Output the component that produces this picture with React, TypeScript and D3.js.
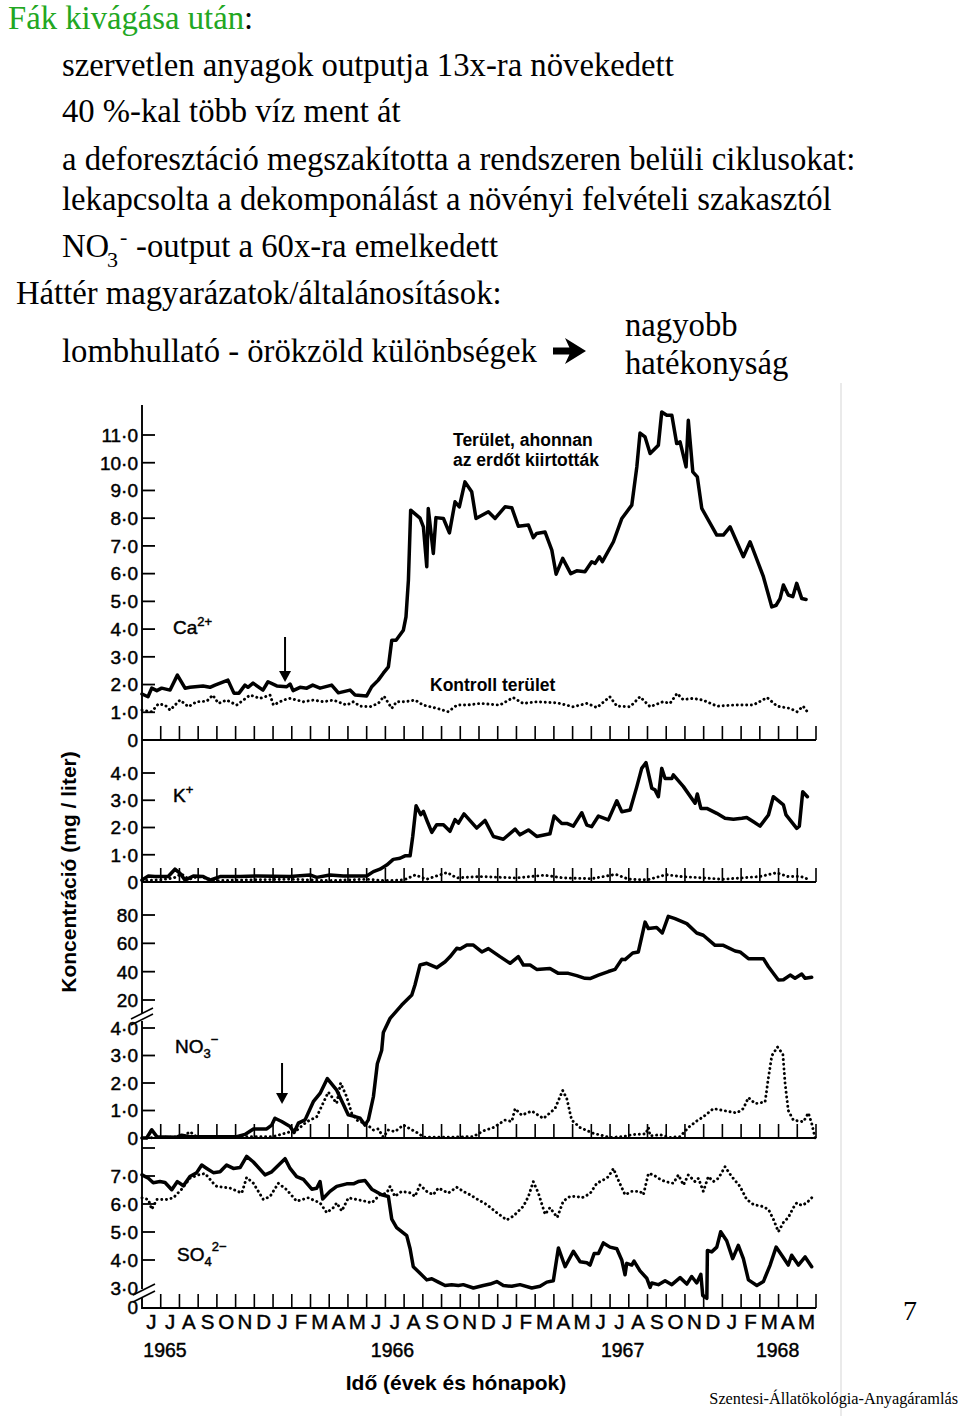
import React from "react";
import * as d3 from "d3";

type P = [number, number];

// ---------- categories / ticks ----------
const monthCycle = ["J", "J", "A", "S", "O", "N", "D", "J", "F", "M", "A", "M"];
const monthLabels = [...monthCycle, ...monthCycle, ...monthCycle];
const yearLabels = ["1965", "1966", "1967", "1968"];
const yearPositions = [1.23, 13.38, 25.67, 33.95]; // month index of year label centre

const caTickValues = [0, 1, 2, 3, 4, 5, 6, 7, 8, 9, 10, 11];
const kTickValues = [0, 1, 2, 3, 4];
const no3LowTickValues = [0, 1, 2, 3, 4];
const no3HighTickValues = [20, 40, 60, 80];
const so4TickValues = [3, 4, 5, 6, 7];
const so4ExtraTicks = [8];

const cuttingMonths = [7.64, 7.48]; // arrow positions (Ca, NO3)

// ---------- series: [months since 1 June 1965, mg/liter] ----------
const caTreated: P[] = [[0,1.66],[0.32,1.56],[0.52,1.87],[0.79,1.78],[1.05,1.87],[1.5,1.8],[1.89,2.34],[2.3,1.87],[2.56,1.9],[3.26,1.95],[3.63,1.9],[3.9,1.98],[4.59,2.16],[4.91,1.69],[5.18,1.69],[5.5,1.98],[5.66,1.9],[5.93,2.05],[6.46,1.8],[6.73,2.1],[7.2,1.95],[7.73,1.92],[7.91,2.02],[8.07,1.78],[8.44,1.9],[8.8,1.87],[9.12,1.98],[9.51,1.87],[10.13,1.98],[10.49,1.7],[11.11,1.8],[11.38,1.62],[12.0,1.59],[12.27,1.92],[12.62,2.16],[12.89,2.41],[13.16,2.64],[13.34,3.6],[13.57,3.6],[13.96,3.96],[14.1,4.44],[14.23,5.77],[14.35,8.29],[14.85,8.0],[15.03,7.69],[15.21,6.25],[15.29,8.35],[15.56,6.73],[15.7,8.02],[16.1,7.99],[16.42,7.47],[16.72,8.59],[16.95,8.41],[17.25,9.31],[17.61,8.95],[17.84,7.99],[18.5,8.23],[18.86,7.99],[19.39,8.41],[19.75,8.38],[20.1,7.71],[20.64,7.75],[20.9,7.3],[21.08,7.45],[21.53,7.5],[21.89,6.85],[22.12,5.98],[22.47,6.55],[22.9,6.0],[23.22,6.1],[23.66,6.07],[24.02,6.43],[24.2,6.37],[24.43,6.61],[24.59,6.43],[25.18,7.15],[25.63,7.99],[26.16,8.47],[26.43,9.85],[26.6,11.07],[26.87,10.93],[27.14,10.33],[27.58,10.63],[27.76,11.83],[28.03,11.71],[28.3,11.71],[28.56,10.69],[28.74,10.75],[29.06,9.85],[29.18,11.53],[29.42,9.67],[29.66,9.49],[29.9,8.35],[30.7,7.39],[31.05,7.39],[31.41,7.69],[32.12,6.61],[32.48,7.15],[33.19,5.89],[33.64,4.8],[33.87,4.86],[34.08,5.1],[34.26,5.59],[34.52,5.23],[34.76,5.17],[34.97,5.65],[35.24,5.1],[35.47,5.07]];

const caControl: P[] = [[0,1.08],[0.52,1.02],[0.87,1.3],[1.23,1.26],[1.5,1.08],[2.03,1.44],[2.48,1.2],[2.92,1.38],[3.46,1.4],[3.78,1.62],[4.08,1.32],[4.52,1.44],[5.06,1.26],[5.77,1.62],[6.3,1.5],[6.84,1.62],[7.02,1.26],[7.55,1.44],[7.91,1.5],[8.62,1.38],[9.15,1.44],[9.69,1.38],[10.22,1.44],[10.93,1.26],[11.29,1.38],[11.65,1.22],[12.18,1.2],[12.62,1.32],[12.93,1.58],[13.34,1.14],[13.6,1.38],[14.05,1.38],[14.58,1.44],[15.01,1.26],[15.76,1.14],[16.35,1.02],[16.83,1.26],[17.36,1.26],[18.06,1.32],[19.12,1.26],[19.82,1.53],[20.35,1.32],[21.1,1.38],[22.17,1.34],[23.02,1.2],[23.77,1.32],[24.3,1.17],[24.99,1.56],[25.37,1.22],[26.07,1.2],[26.6,1.56],[27.14,1.2],[27.83,1.38],[28.2,1.32],[28.58,1.68],[28.9,1.46],[29.43,1.5],[29.96,1.44],[30.72,1.22],[31.57,1.26],[32.64,1.26],[33.39,1.53],[33.92,1.22],[34.62,1.14],[34.99,1.02],[35.31,1.22],[35.58,0.98]];

const kTreated: P[] = [[0,0.07],[0.34,0.22],[0.69,0.2],[1.4,0.2],[1.76,0.47],[2.03,0.32],[2.3,0.07],[2.74,0.22],[3.27,0.2],[3.63,0.07],[4.17,0.2],[5.24,0.2],[6.13,0.22],[7.91,0.2],[8.97,0.26],[9.33,0.17],[10.04,0.26],[10.75,0.22],[12.0,0.22],[12.36,0.38],[12.71,0.47],[13.07,0.62],[13.42,0.83],[13.78,0.87],[14.05,0.96],[14.32,0.96],[14.46,1.67],[14.64,2.8],[14.89,2.47],[15.03,2.59],[15.24,2.22],[15.48,1.82],[15.74,2.1],[16.1,2.1],[16.45,1.86],[16.72,2.29],[16.9,2.16],[17.2,2.5],[17.88,1.98],[18.32,2.26],[18.77,1.67],[19.3,1.57],[19.93,1.94],[20.19,1.73],[20.64,1.91],[21.08,1.67],[21.79,1.77],[22.01,2.42],[22.42,2.15],[22.69,2.15],[23.04,2.05],[23.49,2.54],[23.76,2.09],[24.02,2.03],[24.38,2.42],[24.91,2.28],[25.36,2.98],[25.63,2.58],[26.07,2.64],[26.43,3.5],[26.69,4.17],[26.92,4.38],[27.23,3.44],[27.4,3.38],[27.58,3.13],[27.76,4.17],[27.94,3.8],[28.3,3.8],[28.38,3.93],[28.92,3.5],[29.54,2.89],[29.66,3.23],[29.85,2.7],[30.17,2.7],[30.7,2.52],[31.14,2.34],[31.59,2.3],[32.04,2.34],[32.3,2.37],[32.66,2.21],[33.01,2.05],[33.46,2.46],[33.72,3.13],[34.26,2.83],[34.4,2.46],[34.97,1.97],[35.11,2.05],[35.29,3.31],[35.54,3.13]];

const kControl: P[] = [[0,0.05],[1,0.08],[1.7,0.15],[2.1,0.3],[2.5,0.1],[3,0.2],[4,0.05],[6,0.08],[8,0.1],[10,0.05],[12,0.1],[13,0.05],[14,0.08],[14.6,0.26],[15.2,0.1],[16.3,0.35],[16.8,0.15],[18,0.2],[20,0.15],[21.5,0.25],[22.5,0.15],[24,0.12],[25.3,0.28],[26,0.1],[27,0.08],[28,0.27],[28.8,0.2],[30,0.15],[31,0.1],[32,0.15],[33,0.2],[33.9,0.34],[34.5,0.2],[35.2,0.2],[35.6,0.1]];

const no3Treated: P[] = [[0,0],[0.25,0],[0.52,0.3],[0.79,0.05],[1.85,0.03],[2.12,0.1],[2.56,0.05],[5.06,0.05],[5.5,0.13],[5.95,0.33],[6.66,0.33],[6.93,0.47],[7.1,0.72],[7.46,0.6],[7.91,0.42],[8.12,0.2],[8.35,0.54],[8.71,0.66],[9.15,1.32],[9.51,1.62],[9.9,2.16],[10.4,1.74],[11.02,0.84],[11.38,0.78],[11.65,0.72],[11.91,0.47],[12.09,0.66],[12.36,1.5],[12.57,2.7],[12.8,3.18],[12.89,3.84],[13.25,9.5],[13.87,17.1],[14.41,23.5],[14.58,30.6],[14.85,44.7],[15.21,45.9],[15.74,42.8],[16.19,47],[16.45,50.5],[16.81,56.5],[16.99,56],[17.35,58.8],[17.7,58.8],[18.15,53.9],[18.5,56.3],[19.12,50.6],[19.66,45.9],[20.1,50.6],[20.37,44.7],[20.73,44.7],[21.08,41.6],[21.79,42.3],[22.24,38.8],[22.77,38.8],[23.22,37.2],[23.66,35.3],[23.93,35.1],[24.38,37.6],[24.91,40.1],[25.27,41.6],[25.63,48.7],[25.8,48.5],[26.21,53.2],[26.51,53.9],[26.87,75],[27.05,70.4],[27.49,71.1],[27.79,67.3],[28.11,79],[28.47,77.4],[29.1,73.9],[29.63,67.3],[29.98,65.7],[30.61,58.6],[31.05,58.6],[31.68,54.6],[31.94,53.9],[32.39,49.2],[33.19,49.2],[33.46,43.5],[33.99,34.1],[34.26,34.3],[34.62,37.6],[34.88,35.3],[35.24,38.3],[35.42,35.3],[35.77,36]];

const no3Control: P[] = [[0,0],[1,0.02],[2.2,0.05],[2.56,0.23],[2.9,0.05],[5,0.05],[7,0.05],[8.3,0.3],[8.8,0.59],[9.33,0.77],[9.95,1.67],[10.4,1.26],[10.61,2.0],[10.93,1.5],[11.2,0.9],[11.47,0.65],[12.0,0.5],[12.36,0.29],[12.62,0.33],[12.89,0.03],[13.16,0.29],[13.51,0.23],[13.96,0.47],[14.32,0.33],[14.76,0.17],[15.03,0.03],[16.5,0.03],[17.7,0.05],[18.23,0.26],[18.77,0.38],[19.39,0.65],[19.75,0.6],[19.93,1.07],[20.28,0.83],[20.82,0.98],[21.44,0.71],[22.06,1.07],[22.47,1.73],[22.69,1.43],[22.95,0.65],[23.4,0.38],[24.11,0.17],[25.0,0.02],[25.71,0.05],[26.16,0.12],[26.9,0.15],[27.05,0.38],[27.14,0.08],[27.67,0.12],[28.2,0.02],[28.74,0.05],[29.18,0.38],[29.63,0.62],[29.98,0.77],[30.52,1.07],[31.05,1.0],[31.77,0.91],[32.12,1.07],[32.39,1.47],[32.75,1.25],[33.28,1.31],[33.46,2.2],[33.64,2.99],[33.94,3.31],[34.23,3.05],[34.35,1.97],[34.52,1.0],[34.79,0.65],[35.33,0.59],[35.59,0.91],[35.77,0.53],[35.95,0]];

const so4Treated: P[] = [[0,7.04],[0.34,6.92],[0.6,6.76],[0.96,6.8],[1.23,6.77],[1.59,6.51],[1.89,6.8],[2.21,6.65],[2.56,6.98],[2.92,7.12],[3.19,7.39],[3.46,7.27],[3.81,7.12],[4.17,7.15],[4.52,7.39],[4.88,7.27],[5.24,7.3],[5.59,7.7],[5.95,7.5],[6.57,7.04],[6.93,7.15],[7.64,7.62],[7.91,7.27],[8.26,6.98],[8.62,6.88],[9.07,6.53],[9.33,6.56],[9.51,6.8],[9.65,6.18],[10.04,6.45],[10.4,6.63],[10.93,6.72],[11.29,6.72],[11.55,6.8],[11.91,6.84],[12.27,6.53],[12.8,6.33],[13.16,6.27],[13.34,5.46],[13.6,5.16],[14.14,4.87],[14.32,4.4],[14.49,3.76],[14.85,3.53],[15.21,3.29],[15.48,3.33],[15.83,3.21],[16.19,3.09],[16.54,3.12],[16.9,3.09],[17.16,3.12],[17.7,3.0],[18.23,3.09],[18.59,3.14],[18.95,3.23],[19.3,3.09],[19.75,3.06],[20.19,3.12],[20.82,3.0],[21.26,3.06],[21.62,3.21],[21.97,3.26],[22.24,4.43],[22.6,3.76],[23.04,4.31],[23.4,3.94],[23.76,3.9],[23.93,3.82],[24.15,4.23],[24.38,4.23],[24.64,4.61],[25.0,4.46],[25.36,4.4],[25.63,3.99],[25.8,3.47],[25.89,3.88],[26.16,3.82],[26.28,3.96],[26.6,3.61],[26.96,3.35],[27.14,3.02],[27.23,3.18],[27.58,3.12],[27.94,3.26],[28.3,3.12],[28.74,3.37],[29.1,3.14],[29.36,3.41],[29.63,3.18],[29.85,3.49],[29.95,1.88],[30.17,1.45],[30.2,4.34],[30.43,4.29],[30.7,4.46],[30.91,5.01],[31.23,4.69],[31.55,4.05],[31.85,4.52],[32.12,4.05],[32.39,3.29],[32.84,3.09],[33.19,3.23],[33.55,3.82],[33.87,4.46],[34.17,4.17],[34.52,3.82],[34.7,4.17],[35.06,3.82],[35.42,4.11],[35.77,3.76]];

const so4Control: P[] = [[0,6.22],[0.34,6.16],[0.52,5.81],[0.79,6.16],[1.32,6.16],[1.67,6.22],[2.12,6.53],[2.56,6.92],[3.01,7.04],[3.37,7.09],[3.81,6.74],[3.99,6.63],[4.7,6.57],[5.33,6.39],[5.59,6.95],[5.95,6.74],[6.48,6.16],[6.84,6.27],[7.28,6.74],[7.73,6.51],[8.26,6.1],[8.88,6.22],[9.51,6.04],[9.87,5.69],[10.22,5.87],[10.4,6.04],[10.67,5.75],[11.02,6.22],[11.47,6.16],[11.91,6.1],[12.27,6.04],[12.71,6.33],[13.07,6.39],[13.25,6.63],[13.51,6.27],[13.87,6.45],[14.32,6.4],[14.58,6.27],[14.85,6.68],[15.21,6.45],[15.56,6.33],[15.83,6.57],[16.36,6.39],[16.81,6.6],[17.16,6.45],[17.52,6.33],[17.88,6.18],[18.41,5.98],[18.95,5.69],[19.48,5.43],[19.84,5.57],[20.37,5.92],[20.64,6.27],[20.9,6.8],[21.17,6.39],[21.53,5.63],[21.79,5.87],[22.18,5.52],[22.5,6.1],[22.86,6.27],[23.22,6.27],[23.49,6.22],[23.93,6.37],[24.29,6.74],[24.64,6.86],[24.91,6.97],[25.18,7.27],[25.36,6.97],[25.8,6.33],[26.16,6.45],[26.6,6.45],[26.78,6.33],[27.05,7.09],[27.32,7.04],[27.58,6.92],[27.94,6.8],[28.38,6.74],[28.65,7.04],[28.92,6.68],[29.18,7.04],[29.54,6.8],[29.72,6.92],[29.98,6.45],[30.25,6.98],[30.52,6.8],[30.79,6.92],[31.14,7.33],[31.5,6.98],[31.94,6.63],[32.3,6.16],[32.66,5.98],[33.1,5.92],[33.46,5.81],[33.72,5.46],[33.99,5.01],[34.26,5.34],[34.52,5.52],[34.79,5.87],[34.97,6.04],[35.24,5.95],[35.5,6.04],[35.77,6.22]];

// ---------- drawing ----------
const SANS = "'Liberation Sans', Arial, Helvetica, sans-serif";
const SERIF = "'Liberation Serif', 'Times New Roman', serif";

const x = d3.scaleLinear().domain([0, 36]).range([142, 816]);
const yCa = d3.scaleLinear().domain([0, 11]).range([740, 435]);
const yK = d3.scaleLinear().domain([0, 4]).range([882, 773]);
const yNO3 = d3.scaleLinear().domain([0, 4, 20, 80]).range([1138, 1028, 1000, 915]);
const ySO4 = d3.scaleLinear().domain([0, 3, 8]).range([1308, 1288, 1148]);

const fmt = (v: number) => (v === 0 ? "0" : v.toFixed(1).replace(".", "\u00B7"));

function linePath(data: P[], y: d3.ScaleLinear<number, number>) {
  return d3.line<P>().x((d) => x(d[0])).y((d) => y(d[1]))(data) || "";
}

const solidStyle = { fill: "none", stroke: "#000", strokeWidth: 3.5, strokeLinejoin: "round" as const, strokeLinecap: "round" as const };
const dotStyle = { fill: "none", stroke: "#000", strokeWidth: 2.9, strokeDasharray: "0.1 4.6", strokeLinecap: "round" as const };

const AXIS_X = 142;
const TICK = 13;
const TXT_STROKE = { stroke: "#000", strokeWidth: 0.45 };

function YTicks({ values, scale, labels = true, tickLen = TICK, skipTick = [] as number[] }: any) {
  return (
    <g>
      {values.map((v: number) => (
        <g key={v}>
          {v !== 0 && !skipTick.includes(v) && (
            <line x1={AXIS_X} x2={AXIS_X + tickLen} y1={scale(v)} y2={scale(v)} stroke="#000" strokeWidth={1.8} />
          )}
          {labels && (
            <text x={138} y={scale(v)} dy="0.36em" textAnchor="end" fontFamily={SANS} fontSize={19} {...TXT_STROKE}>
              {v >= 20 ? String(v) : fmt(v)}
            </text>
          )}
        </g>
      ))}
    </g>
  );
}

function XBase({ y }: { y: number }) {
  return (
    <g>
      <line x1={AXIS_X} x2={x(36)} y1={y} y2={y} stroke="#000" strokeWidth={1.9} />
      {d3.range(1, 37).map((m) => (
        <line key={m} x1={x(m)} x2={x(m)} y1={y} y2={y - 14} stroke="#000" strokeWidth={1.6} />
      ))}
    </g>
  );
}

function Arrow({ m, y1, y2 }: { m: number; y1: number; y2: number }) {
  const ax = x(m);
  return (
    <g>
      <line x1={ax} x2={ax} y1={y1} y2={y2 - 10} stroke="#000" strokeWidth={2} />
      <path d={`M${ax - 6},${y2 - 11} L${ax + 6},${y2 - 11} L${ax},${y2} Z`} fill="#000" />
    </g>
  );
}

export default function App() {
  return (
    <svg width={960} height={1416} viewBox="0 0 960 1416" style={{ position: "absolute", left: 0, top: 0, background: "#fff" }}>
      <rect x={0} y={0} width={960} height={1416} fill="#fff" />

      {/* ---------- top text ---------- */}
      <g fontFamily={SERIF} fontSize={32.7} fill="#000">
        <text x={8} y={29}>
          <tspan fill="#22a722">Fák kivágása után</tspan>
          <tspan>:</tspan>
        </text>
        <text x={62} y={76}>szervetlen anyagok outputja 13x-ra növekedett</text>
        <text x={62} y={122}>40 %-kal több víz ment át</text>
        <text x={62} y={170}>a deforesztáció megszakította a rendszeren belüli ciklusokat:</text>
        <text x={62} y={210}>lekapcsolta a dekomponálást a növényi felvételi szakasztól</text>
        <text x={62} y={257}>NO</text>
        <text x={107} y={267} fontSize={22}>3</text>
        <text x={120} y={244} fontSize={22}>-</text>
        <text x={136} y={257}>-output a 60x-ra emelkedett</text>
        <text x={16} y={304}>Háttér magyarázatok/általánosítások:</text>
        <text x={62} y={362}>lombhullató - örökzöld különbségek</text>
        <text x={625} y={336}>nagyobb</text>
        <text x={625} y={374}>hatékonyság</text>
      </g>
      <path d="M553,347.5 H572 V354.5 H553 Z M565,338 L586,351 L565,364 L571,351 Z" fill="#000" />

      {/* faint page separator */}
      <line x1={841} x2={841} y1={383} y2={1416} stroke="#dcdcdc" strokeWidth={1.2} />

      {/* ---------- axes ---------- */}
      <line x1={AXIS_X} x2={AXIS_X} y1={405} y2={1013} stroke="#000" strokeWidth={1.9} />
      <line x1={AXIS_X} x2={AXIS_X} y1={1021} y2={1289} stroke="#000" strokeWidth={1.9} />
      <line x1={AXIS_X} x2={AXIS_X} y1={1297} y2={1309} stroke="#000" strokeWidth={1.9} />
      {/* axis breaks */}
      <g stroke="#000" strokeWidth={1.6}>
        <line x1={131} y1={1019} x2={153} y2={1008} />
        <line x1={131} y1={1025} x2={153} y2={1014} />
        <line x1={133} y1={1295} x2={155} y2={1284} />
        <line x1={133} y1={1302} x2={155} y2={1291} />
      </g>

      <YTicks values={caTickValues} scale={yCa} />
      <YTicks values={kTickValues} scale={yK} />
      <YTicks values={no3LowTickValues} scale={yNO3} />
      <YTicks values={no3HighTickValues} scale={yNO3} />
      <YTicks values={so4TickValues} scale={ySO4} skipTick={[3]} />
      <YTicks values={so4ExtraTicks} scale={ySO4} labels={false} />
      <text x={138} y={ySO4(0)} dy="0.3em" textAnchor="end" fontFamily={SANS} fontSize={19} {...TXT_STROKE}>0</text>

      <XBase y={yCa(0)} />
      <XBase y={yK(0)} />
      <XBase y={yNO3(0)} />
      <XBase y={ySO4(0)} />

      {/* ---------- series ---------- */}
      <path d={linePath(caControl, yCa)} {...dotStyle} />
      <path d={linePath(caTreated, yCa)} {...solidStyle} />
      <path d={linePath(kControl, yK)} {...dotStyle} />
      <path d={linePath(kTreated, yK)} {...solidStyle} />
      <path d={linePath(no3Control, yNO3)} {...dotStyle} />
      <path d={linePath(no3Treated, yNO3)} {...solidStyle} />
      <path d={linePath(so4Control, ySO4)} {...dotStyle} />
      <path d={linePath(so4Treated, ySO4)} {...solidStyle} />

      {/* arrows marking the cutting */}
      <Arrow m={cuttingMonths[0]} y1={637} y2={682} />
      <Arrow m={cuttingMonths[1]} y1={1063} y2={1104} />

      {/* ---------- panel labels ---------- */}
      <g fontFamily={SANS} fill="#000">
        <text x={173} y={634} fontSize={19} {...TXT_STROKE}>
          Ca<tspan fontSize={13} dy={-8}>2+</tspan>
        </text>
        <text x={173} y={802} fontSize={19} {...TXT_STROKE}>
          K<tspan fontSize={13} dy={-8}>+</tspan>
        </text>
        <text x={175} y={1053} fontSize={19} {...TXT_STROKE}>
          NO<tspan fontSize={13} dy={5}>3</tspan>
          <tspan fontSize={13} dy={-14}>−</tspan>
        </text>
        <text x={177} y={1261} fontSize={19} {...TXT_STROKE}>
          SO<tspan fontSize={13} dy={5}>4</tspan>
          <tspan fontSize={13} dy={-15}>2−</tspan>
        </text>
        <text x={453} y={446} fontSize={17.5} fontWeight="bold">Terület, ahonnan</text>
        <text x={453} y={466} fontSize={17.5} fontWeight="bold">az erdőt kiirtották</text>
        <text x={430} y={691} fontSize={17.5} fontWeight="bold">Kontroll terület</text>
      </g>

      {/* ---------- x labels ---------- */}
      <g fontFamily={SANS} fill="#000">
        {monthLabels.map((l, i) => (
          <text key={i} x={x(i + 0.5)} y={1329} textAnchor="middle" fontSize={20.5} {...TXT_STROKE}>
            {l}
          </text>
        ))}
        {yearLabels.map((l, i) => (
          <text key={l} x={x(yearPositions[i])} y={1357} textAnchor="middle" fontSize={19.5} {...TXT_STROKE}>
            {l}
          </text>
        ))}
        <text x={456} y={1390} textAnchor="middle" fontSize={21} fontWeight="bold">
          Idő (évek és hónapok)
        </text>
        <text transform="translate(76,872) rotate(-90)" textAnchor="middle" fontSize={21} fontWeight="bold">
          Koncentráció (mg / liter)
        </text>
      </g>

      {/* ---------- page footer ---------- */}
      <text x={910} y={1320} textAnchor="middle" fontFamily={SERIF} fontSize={28}>7</text>
      <text x={958} y={1404} textAnchor="end" fontFamily={SERIF} fontSize={16.3}>
        Szentesi-Állatökológia-Anyagáramlás
      </text>
    </svg>
  );
}
